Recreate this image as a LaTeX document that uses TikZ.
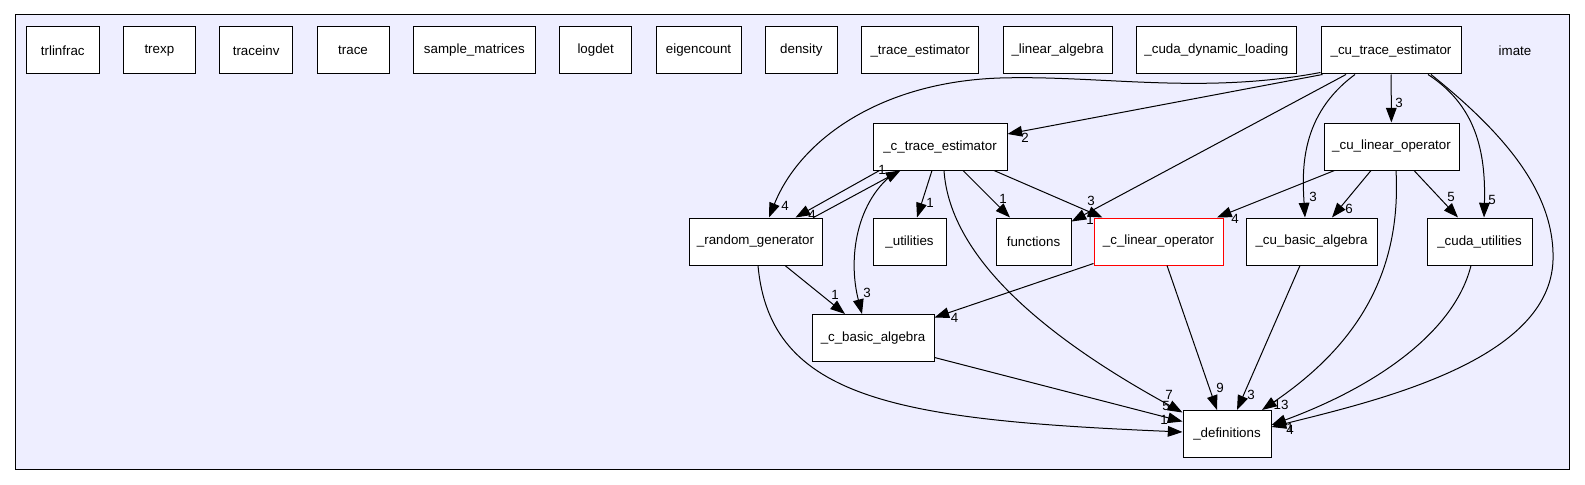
\documentclass[tikz,border=0pt]{standalone}
\usepackage{fontspec}
\setmainfont{Liberation Sans}
\usetikzlibrary{arrows.meta,positioning}
\definecolor{dirbg}{RGB}{238,238,255}

\begin{document}
\begin{tikzpicture}[x=0.75pt, y=-0.75pt, node distance=17.5pt,
  dirbox/.style={draw, rectangle, fill=white, line width=0.75pt, minimum height=35.25pt, inner sep=2pt},
  dep/.style={-{Triangle[length=11pt, width=8pt]}, line width=0.75pt},
  lbl/.style={inner sep=0pt}]
\useasboundingbox (0,0) rectangle (1585,485);

% imate folder
\draw[fill=dirbg, line width=0.75pt] (15,15) rectangle (1569,469);
\node (imate-title) at (1515,50.5) {imate};

% top row
\node[dirbox, minimum width=54.4pt] (trlinfrac) at (62.75,50.5) {trlinfrac};
\node[dirbox, minimum width=54pt, right=of trlinfrac] (trexp) {trexp};
\node[dirbox, minimum width=54.75pt, right=of trexp] (traceinv) {traceinv};
\node[dirbox, minimum width=54pt, right=of traceinv] (trace) {trace};
\node[dirbox, minimum width=91.5pt, right=of trace] (sample-matrices) {sample\_matrices};
\node[dirbox, minimum width=54pt, right=of sample-matrices] (logdet) {logdet};
\node[dirbox, minimum width=63.75pt, right=of logdet] (eigencount) {eigencount};
\node[dirbox, minimum width=54pt, right=of eigencount] (density) {density};
\node[dirbox, minimum width=87.75pt, right=of density] (trace-est) {\_trace\_estimator};
\node[dirbox, minimum width=81.75pt, right=of trace-est] (lin-alg) {\_linear\_algebra};
\node[dirbox, minimum width=120pt, right=of lin-alg] (cuda-dyn) {\_cuda\_dynamic\_loading};
\node[dirbox, minimum width=105pt] (cu-trace-est) at (1391,50.5) {\_cu\_trace\_estimator};

% inner layers
\node[dirbox, minimum width=100.5pt] (c-trace-est) at (940,146.5) {\_c\_trace\_estimator};
\node[dirbox, minimum width=101.25pt] (cu-lin-op) at (1391.5,146.5) {\_cu\_linear\_operator};
\node[dirbox, minimum width=99.75pt] (random-gen) at (755.5,241.5) {\_random\_generator};
\node[dirbox, minimum width=54.75pt] (utilities) at (909.5,241.5) {\_utilities};
\node[dirbox, minimum width=56.25pt] (functions) at (1033.5,241.5) {functions};
\node[dirbox, draw=red, minimum width=96.75pt] (c-lin-op) at (1158.5,241.5) {\_c\_linear\_operator};
\node[dirbox, minimum width=98.25pt] (cu-basic-alg) at (1311.5,241.5) {\_cu\_basic\_algebra};
\node[dirbox, minimum width=78.75pt] (cuda-util) at (1479.5,241.5) {\_cuda\_utilities};
\node[dirbox, minimum width=91.5pt] (c-basic-alg) at (873,338) {\_c\_basic\_algebra};
\node[dirbox, minimum width=66pt] (definitions) at (1227,434) {\_definitions};

% from _cu_trace_estimator
\draw[dep] ([shift={(0,-2)}]cu-trace-est.south west) .. controls (1200,95) and (1100,75) .. (1000,78)
  .. controls (880,82) and (800,140) .. ([shift={(13.5,0)}]random-gen.north) node[lbl] at (785,206) {4};
\draw[dep] ([shift={(2,0)}]cu-trace-est.south west) -- ([shift={(0,-12.5)}]c-trace-est.east) node[lbl] at (1025,138) {2};
\draw[dep] ([shift={(-45,0)}]cu-trace-est.south) -- ([shift={(0,4)}]functions.north east) node[lbl] at (1090,220) {1};
\draw[dep] (cu-trace-est) -- (cu-lin-op) node[lbl] at (1399,103) {3};
\draw[dep] ([shift={(-36,0)}]cu-trace-est.south) .. controls (1300,115) and (1302,170) .. ([shift={(-6.5,0)}]cu-basic-alg.north) node[lbl] at (1313,197) {3};
\draw[dep] ([shift={(37,0)}]cu-trace-est.south) .. controls (1475,105) and (1486,150) .. ([shift={(4.5,0)}]cuda-util.north) node[lbl] at (1492,200) {5};
\draw[dep] ([shift={(40,0)}]cu-trace-est.south) .. controls (1500,130) and (1555,190) .. (1553,260)
  .. controls (1550,360) and (1380,400) .. ([shift={(0,-7)}]definitions.east) node[lbl] at (1290,430) {4};

% from _cu_linear_operator
\draw[dep] ([shift={(-57,0)}]cu-lin-op.south) -- ([shift={(58.5,0)}]c-lin-op.north) node[lbl] at (1235,219) {4};
\draw[dep] ([shift={(-20.5,0)}]cu-lin-op.south) -- ([shift={(20.5,0)}]cu-basic-alg.north) node[lbl] at (1349,209) {6};
\draw[dep] ([shift={(22.5,0)}]cu-lin-op.south) -- ([shift={(-21.5,0)}]cuda-util.north) node[lbl] at (1451,197) {5};
\draw[dep] ([shift={(4.5,0)}]cu-lin-op.south) .. controls (1402,280) and (1350,350) .. ([shift={(35,0)}]definitions.north) node[lbl] at (1281,405) {13};

% from _c_trace_estimator
\draw[dep] ([shift={(7,0)}]c-trace-est.south west) -- ([shift={(-27,0)}]random-gen.north east) node[lbl] at (812,215) {4};
\draw[dep] ([shift={(-8,0)}]c-trace-est.south) -- ([shift={(7.5,0)}]utilities.north) node[lbl] at (930,203) {1};
\draw[dep] ([shift={(23,0)}]c-trace-est.south) -- ([shift={(-23.5,0)}]functions.north) node[lbl] at (1003,199) {1};
\draw[dep] ([shift={(54,0)}]c-trace-est.south) -- ([shift={(9,0)}]c-lin-op.north west) node[lbl] at (1091,201) {3};
\draw[dep] ([shift={(4,0)}]c-trace-est.south) .. controls (950,260) and (1050,340) .. ([shift={(0,2.5)}]definitions.north west) node[lbl] at (1169,395) {7};
\draw[dep] ([shift={(25,0)}]c-trace-est.south west) .. controls (855,200) and (848,260) .. ([shift={(-11,0)}]c-basic-alg.north) node[lbl] at (867,293) {3};

% from _random_generator
\draw[dep] ([shift={(-9,0)}]random-gen.north east) -- ([shift={(28,0)}]c-trace-est.south west) node[lbl] at (882,170) {1};
\draw[dep] ([shift={(29.5,0)}]random-gen.south) -- ([shift={(-28,0)}]c-basic-alg.north) node[lbl] at (835,295) {1};
\draw[dep] ([shift={(2.5,0)}]random-gen.south) .. controls (770,400) and (900,420) .. ([shift={(0,-2)}]definitions.west) node[lbl] at (1164,420) {1};

% remaining ones
\draw[dep] ([shift={(0,-4.5)}]c-basic-alg.south east) -- ([shift={(0,11.5)}]definitions.north west) node[lbl] at (1166,406) {5};
\draw[dep] ([shift={(0,-2)}]c-lin-op.south west) -- ([shift={(0,3.5)}]c-basic-alg.north east) node[lbl] at (954.5,318) {4};
\draw[dep] ([shift={(8.5,0)}]c-lin-op.south) -- ([shift={(-10,0)}]definitions.north) node[lbl] at (1220,388) {9};
\draw[dep] ([shift={(-11.5,0)}]cu-basic-alg.south) -- ([shift={(10,0)}]definitions.north) node[lbl] at (1251,395) {3};
\draw[dep] ([shift={(-8.5,0)}]cuda-util.south) .. controls (1455,330) and (1380,385) .. ([shift={(0,-9)}]definitions.east) node[lbl] at (1290,428) {1};

\end{tikzpicture}
\end{document}
